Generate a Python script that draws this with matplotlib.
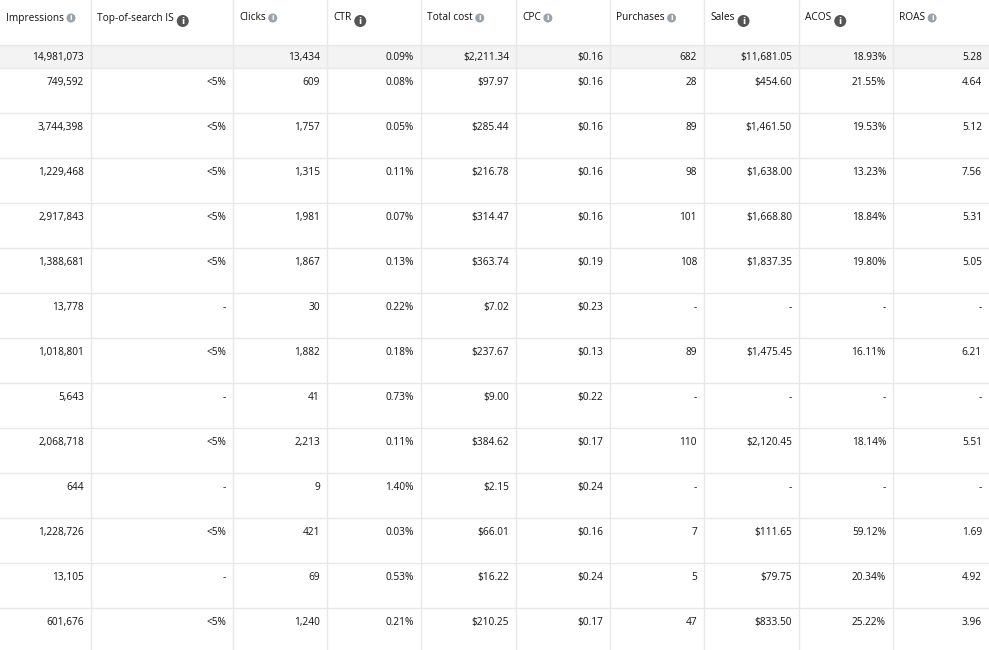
import matplotlib
matplotlib.use("Agg")
import matplotlib.pyplot as plt
from matplotlib.patches import Rectangle, Circle

headers = ["Impressions", "Top-of-search IS", "Clicks", "CTR", "Total cost", "CPC",
           "Purchases", "Sales", "ACOS", "ROAS"]
big_icon = [False, True, False, True, False, False, False, True, True, False]
totals = ["14,981,073", "", "13,434", "0.09%", "$2,211.34", "$0.16", "682", "$11,681.05", "18.93%", "5.28"]
impressions = ["749,592", "3,744,398", "1,229,468", "2,917,843", "1,388,681", "13,778", "1,018,801",
               "5,643", "2,068,718", "644", "1,228,726", "13,105", "601,676"]
top_is = ["<5%", "<5%", "<5%", "<5%", "<5%", "-", "<5%", "-", "<5%", "-", "<5%", "-", "<5%"]
clicks = ["609", "1,757", "1,315", "1,981", "1,867", "30", "1,882", "41", "2,213", "9", "421", "69", "1,240"]
ctr = ["0.08%", "0.05%", "0.11%", "0.07%", "0.13%", "0.22%", "0.18%", "0.73%", "0.11%", "1.40%",
       "0.03%", "0.53%", "0.21%"]
cost = ["$97.97", "$285.44", "$216.78", "$314.47", "$363.74", "$7.02", "$237.67", "$9.00", "$384.62",
        "$2.15", "$66.01", "$16.22", "$210.25"]
cpc = ["$0.16", "$0.16", "$0.16", "$0.16", "$0.19", "$0.23", "$0.13", "$0.22", "$0.17", "$0.24",
       "$0.16", "$0.24", "$0.17"]
purchases = ["28", "89", "98", "101", "108", "-", "89", "-", "110", "-", "7", "5", "47"]
sales = ["$454.60", "$1,461.50", "$1,638.00", "$1,668.80", "$1,837.35", "-", "$1,475.45", "-",
         "$2,120.45", "-", "$111.65", "$79.75", "$833.50"]
acos = ["21.55%", "19.53%", "13.23%", "18.84%", "19.80%", "-", "16.11%", "-", "18.14%", "-",
        "59.12%", "20.34%", "25.22%"]
roas = ["4.64", "5.12", "7.56", "5.31", "5.05", "-", "6.21", "-", "5.51", "-", "1.69", "4.92", "3.96"]
columns = [impressions, top_is, clicks, ctr, cost, cpc, purchases, sales, acos, roas]

W, H = 989, 650
fig = plt.figure(figsize=(W / 100, H / 100), dpi=100)
ax = fig.add_axes([0, 0, 1, 1])
ax.set_xlim(0, W)
ax.set_ylim(H, 0)
ax.axis("off")

col_x = [0, 91, 233, 327, 421, 516, 610, 704, 799, 893, 989]
header_h, total_h, row_h = 45, 23, 45
line_c = "#e8e8e8"
font = "Open Sans"
fs = 7.3
tc = "#111111"

ax.add_patch(Rectangle((0, header_h), W, total_h, color="#f3f3f3", lw=0))

ys = [header_h, header_h + total_h]
n = len(impressions)
for i in range(1, n + 1):
    ys.append(header_h + total_h + i * row_h)
for y in ys:
    ax.plot([0, W], [y, y], color=line_c, lw=1)
for x in col_x[1:-1]:
    ax.plot([x, x], [0, H], color=line_c, lw=1)

for j, h in enumerate(headers):
    x0 = col_x[j] + 6
    t = ax.text(x0, 18, h, fontsize=fs, family=font, color=tc, va="center", ha="left")
    fig.canvas.draw()
    bb = t.get_window_extent()
    ix = bb.x1 + (9 if big_icon[j] else 7)
    if big_icon[j]:
        ax.add_patch(Circle((ix, 21), 6, color="#555555", lw=0))
        ax.text(ix, 21, "i", fontsize=6.5, color="white", ha="center", va="center",
                family="DejaVu Sans", weight="bold")
    else:
        ax.add_patch(Circle((ix, 18), 4.5, color="#98a3ad", lw=0))
        ax.text(ix, 18.3, "i", fontsize=5, color="white", ha="center", va="center",
                family="DejaVu Sans", weight="bold")

for j, v in enumerate(totals):
    ax.text(col_x[j + 1] - 7, header_h + total_h / 2 + 1, v, fontsize=fs, family=font,
            color=tc, ha="right", va="center")

for j, col in enumerate(columns):
    for i, v in enumerate(col):
        y = header_h + total_h + i * row_h + 14.5
        ax.text(col_x[j + 1] - 7, y, v, fontsize=fs, family=font, color=tc,
                ha="right", va="center")

fig.savefig("out.png", dpi=100)
